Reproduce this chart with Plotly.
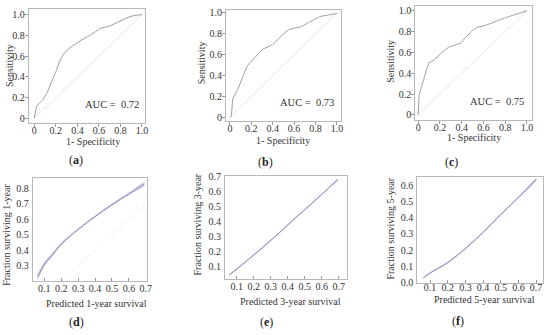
import plotly.graph_objects as go

W, H = 550, 335

# ---------------- data ----------------
roc_fpr_a = [0, 0.01, 0.02, 0.05, 0.08, 0.12, 0.16, 0.2, 0.24, 0.28, 0.33, 0.4, 0.48, 0.56, 0.62, 0.7, 0.78, 0.86, 0.92, 1.0]
roc_tpr_a = [0, 0.06, 0.11, 0.15, 0.18, 0.25, 0.35, 0.45, 0.56, 0.63, 0.68, 0.73, 0.78, 0.83, 0.87, 0.89, 0.93, 0.97, 0.99, 1.0]

roc_fpr_b = [0, 0.012, 0.028, 0.074, 0.12, 0.167, 0.23, 0.305, 0.4, 0.46, 0.55, 0.6, 0.66, 0.75, 0.846, 1.0]
roc_tpr_b = [0, 0.01, 0.18, 0.27, 0.39, 0.50, 0.57, 0.65, 0.70, 0.76, 0.84, 0.855, 0.867, 0.916, 0.966, 0.995]

roc_fpr_c = [0, 0.01, 0.04, 0.10, 0.146, 0.207, 0.28, 0.39, 0.436, 0.5, 0.54, 0.62, 0.74, 0.85, 1.0]
roc_tpr_c = [0, 0.19, 0.30, 0.50, 0.525, 0.59, 0.65, 0.69, 0.745, 0.81, 0.84, 0.86, 0.91, 0.95, 1.0]

auc_labels = ["AUC =  0.72", "AUC =  0.73", "AUC =  0.75"]

pred_d = [0.06, 0.08, 0.1, 0.15, 0.2, 0.3, 0.4, 0.5, 0.6, 0.69]
obs_d = [0.23, 0.27, 0.31, 0.375, 0.44, 0.535, 0.617, 0.694, 0.763, 0.825]
halfw_d = [0.018, 0.015, 0.012, 0.009, 0.007, 0.004, 0.004, 0.005, 0.007, 0.009]

pred_e = [0.056, 0.15, 0.25, 0.35, 0.45, 0.55, 0.65, 0.694]
obs_e = [0.043, 0.13, 0.225, 0.325, 0.43, 0.53, 0.635, 0.68]
halfw_e = [0.004, 0.003, 0.003, 0.003, 0.003, 0.003, 0.003, 0.004]

pred_f = [0.062, 0.1, 0.2, 0.3, 0.4, 0.5, 0.6, 0.7]
obs_f = [0.03, 0.06, 0.125, 0.21, 0.31, 0.42, 0.525, 0.635]
halfw_f = [0.004, 0.003, 0.003, 0.003, 0.003, 0.003, 0.003, 0.004]

roc_ticks = [0, 0.2, 0.4, 0.6, 0.8, 1.0]
roc_ticktext = ["0", "0.2", "0.4", "0.6", "0.8", "1.0"]
cal_xticks = [0.1, 0.2, 0.3, 0.4, 0.5, 0.6, 0.7]
cal_yticks_d = [0.3, 0.4, 0.5, 0.6, 0.7, 0.8]
cal_yticks_e = [0.1, 0.2, 0.3, 0.4, 0.5, 0.6, 0.7]
cal_yticks_f = [0.0, 0.1, 0.2, 0.3, 0.4, 0.5, 0.6]

x_titles = ["1- Specificity", "1- Specificity", "1- Specificity",
            "Predicted 1-year survival", "Predicted 3-year survival", "Predicted 5-year survival"]
y_titles = ["Sensitivity", "Sensitivity", "Sensitivity",
            "Fraction surviving 1-year", "Fraction surviving 3-year", "Fraction surviving 5-year"]
panel_tags = ["a", "b", "c", "d", "e", "f"]

# ---------------- layout geometry (pixels) ----------------
boxes = [
    (29, 146, 4, 122), (228, 344, 5, 120), (419, 537, 1.5, 119),
    (33, 148, 178, 284), (227, 350, 176, 282), (421, 548, 177, 287),
]
xranges = [[-0.052, 1.025], [-0.037, 1.037], [-0.027, 1.048],
           [0.0315, 0.705], [0.03, 0.747], [0.027, 0.739]]
yranges = [[-0.05, 1.056], [-0.037, 1.03], [-0.053, 1.042],
           [0.206, 0.867], [0.019, 0.706], [-0.004, 0.652]]
xlabel_standoff = [-5, -5, -5, -2, -2, -5]

FONT = "Liberation Serif"
fig = go.Figure()

def ax_names(i):
    s = "" if i == 0 else str(i + 1)
    return "x" + s, "y" + s, "xaxis" + s, "yaxis" + s

rocs = [(roc_fpr_a, roc_tpr_a), (roc_fpr_b, roc_tpr_b), (roc_fpr_c, roc_tpr_c)]
for i, (fx, ty) in enumerate(rocs):
    xa, ya, _, _ = ax_names(i)
    fig.add_trace(go.Scatter(x=[0, 1], y=[0, 1], mode="lines",
                             line=dict(color="#e6e6e6", width=1), xaxis=xa, yaxis=ya, hoverinfo="skip"))
    fig.add_trace(go.Scatter(x=fx, y=ty, mode="lines",
                             line=dict(color="#9c9c9c", width=1, shape="spline", smoothing=0.4),
                             xaxis=xa, yaxis=ya))

cals = [(pred_d, obs_d, halfw_d), (pred_e, obs_e, halfw_e), (pred_f, obs_f, halfw_f)]
for j, (px, oy, hw) in enumerate(cals):
    i = j + 3
    xa, ya, _, _ = ax_names(i)
    if j == 0:
        fig.add_trace(go.Scatter(x=[0, 1], y=[0, 1], mode="lines",
                                 line=dict(color="#e8e8e8", width=1, dash="dot"), xaxis=xa, yaxis=ya, hoverinfo="skip"))
    up = [o + h for o, h in zip(oy, hw)]
    lo = [o - h for o, h in zip(oy, hw)]
    fig.add_trace(go.Scatter(x=px + px[::-1], y=up + lo[::-1], mode="lines", fill="toself",
                             fillcolor="rgba(200,200,228,0.8)", line=dict(color="rgba(195,195,225,0.9)", width=0.5, shape="spline"),
                             xaxis=xa, yaxis=ya, hoverinfo="skip"))
    fig.add_trace(go.Scatter(x=px, y=oy, mode="lines", line=dict(color="#8484b4", width=0.9, shape="spline"),
                             xaxis=xa, yaxis=ya))

layout = dict(width=W, height=H, margin=dict(l=0, r=0, t=0, b=0),
              paper_bgcolor="white", plot_bgcolor="white", showlegend=False,
              font=dict(family=FONT, size=10, color="#333"))

annotations = []
for i in range(6):
    l, r, t, b = boxes[i]
    xa, ya, xk, yk = ax_names(i)
    common = dict(showgrid=False, zeroline=False, showline=True, linecolor="#b8b8b8", linewidth=1,
                  mirror=True, tickfont=dict(family=FONT, size=10, color="#333"), tickcolor="#999")
    if i < 3:
        xt = dict(tickvals=roc_ticks, ticktext=roc_ticktext, ticks="outside", ticklen=3)
        yt = dict(tickvals=roc_ticks, ticktext=roc_ticktext, ticks="outside", ticklen=3, ticklabelstandoff=-2)
    else:
        yv = [cal_yticks_d, cal_yticks_e, cal_yticks_f][i - 3]
        xt = dict(tickvals=cal_xticks, ticktext=["%.1f" % v for v in cal_xticks], ticks="inside", ticklen=3)
        yt = dict(tickvals=yv, ticktext=["%.1f" % v for v in yv], ticks="", ticklen=3, ticklabelstandoff=1)
    layout[xk] = dict(domain=[l / W, r / W], range=xranges[i], anchor=ya,
                      ticklabelstandoff=xlabel_standoff[i], **xt, **common)
    layout[yk] = dict(domain=[1 - b / H, 1 - t / H], range=yranges[i], anchor=xa, **yt, **common)

xtitle_pos = [(94, 141), (286, 140), (478, 137), (97, 308), (293, 306), (489, 304)]
ytitle_pos = [(9, 62), (203, 60), (394, 58), (7, 237), (199, 226), (394, 230)]
tag_pos = [(77, 160), (268, 162), (456, 162), (77, 327), (269, 327), (462, 326)]
auc_pos = [(113, 103), (310, 101), (502, 99)]

for i in range(6):
    x, y = xtitle_pos[i]
    annotations.append(dict(x=x / W, y=1 - y / H, xref="paper", yref="paper", text=x_titles[i], showarrow=False,
                            font=dict(family=FONT, size=10, color="#333"), xanchor="center", yanchor="middle"))
    x, y = ytitle_pos[i]
    annotations.append(dict(x=x / W, y=1 - y / H, xref="paper", yref="paper", text=y_titles[i], showarrow=False,
                            textangle=-90, font=dict(family=FONT, size=10, color="#333"), xanchor="center", yanchor="middle"))
    x, y = tag_pos[i]
    annotations.append(dict(x=x / W, y=1 - y / H, xref="paper", yref="paper",
                            text="(<b>" + panel_tags[i] + "</b>)", showarrow=False,
                            font=dict(family=FONT, size=12, color="#222"), xanchor="center", yanchor="middle"))
for i in range(3):
    x, y = auc_pos[i]
    annotations.append(dict(x=x / W, y=1 - y / H, xref="paper", yref="paper", text=auc_labels[i], showarrow=False,
                            font=dict(family=FONT, size=10.5, color="#333"), xanchor="center", yanchor="middle"))

layout["annotations"] = annotations
fig.update_layout(**layout)
fig.write_html("out.html", config={"displayModeBar": False},
               post_script="document.body.style.margin='0';document.body.style.padding='0';")
